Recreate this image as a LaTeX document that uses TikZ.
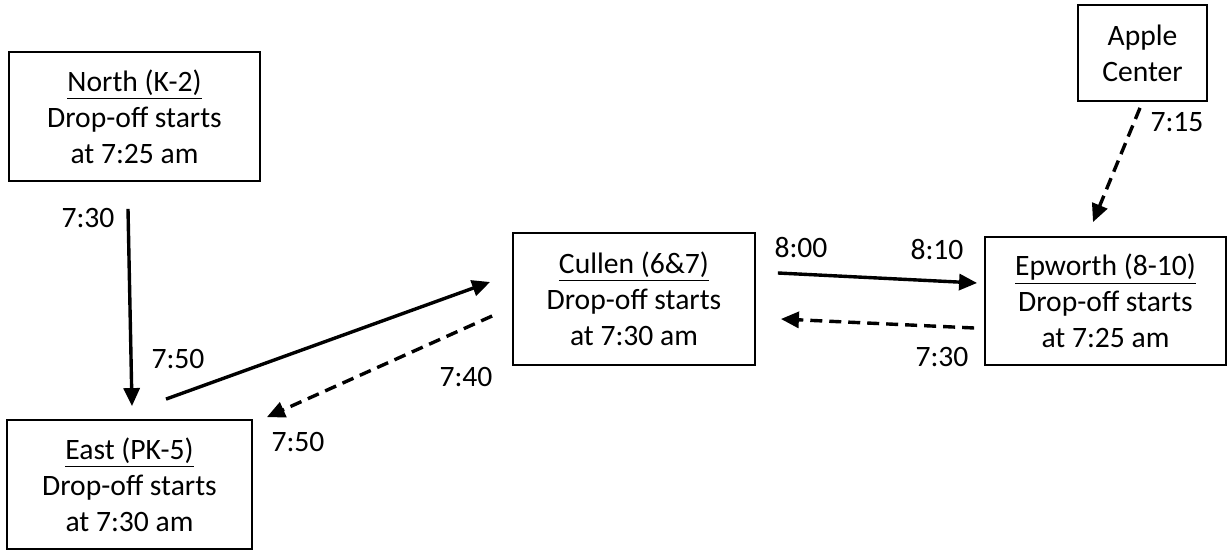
\documentclass[tikz,border=0pt]{standalone}
\usepackage{fontspec}
\setmainfont{Carlito}
\usetikzlibrary{positioning,arrows.meta}

\begin{document}
\begin{tikzpicture}[x=0.5pt,y=-0.5pt,>={Triangle[length=9pt,width=8pt]},font=\fontsize{14.8}{18}\selectfont]
  \tikzstyle{school}=[draw,line width=0.9pt,align=center,inner sep=0pt]
  \tikzstyle{lbl}=[inner sep=0pt]
  \tikzstyle{route}=[->,line width=1.7pt]
  \tikzstyle{shuttle}=[->,line width=1.7pt,dash pattern=on 6pt off 3.5pt]

  \useasboundingbox (0,0) rectangle (1228,550);

  % schools
  \node[school,minimum width=125.5pt,minimum height=64.5pt] (north) at (134.5,116.5) {\underline{North (K-2)}\\Drop-off starts\\at 7:25 am};
  \node[school,minimum width=122.5pt,minimum height=64.5pt] (east) at (129.5,484.5) {\underline{East (PK-5)}\\Drop-off starts\\at 7:30 am};
  \node[school,minimum width=121pt,minimum height=66pt] (cullen) at (634,299) {\underline{Cullen (6\&7)}\\Drop-off starts\\at 7:30 am};
  \node[school,minimum width=120.5pt,minimum height=64pt] (epworth) at (1105.5,301) {\underline{Epworth (8-10)}\\Drop-off starts\\at 7:25 am};
  \node[school,minimum width=64.5pt,minimum height=48pt] (apple) at (1142.5,53) {Apple\\Center};

  % times
  \node[lbl] (t730a) at (88,218) {7:30};
  \node[lbl] (t750a) at (178,359) {7:50};
  \node[lbl] (t740) at (466,377) {7:40};
  \node[lbl] (t750b) at (298,442) {7:50};
  \node[lbl] (t800) at (801,248) {8:00};
  \node[lbl] (t810) at (937,250) {8:10};
  \node[lbl] (t730b) at (942,357) {7:30};
  \node[lbl] (t715) at (1177,122) {7:15};

  % routes
  \draw[route] ([shift={(-6.5,27)}]north.south) -- ([shift={(2.5,-13)}]east.north);
  \draw[route] ([shift={(36.5,-20)}]east.north) -- ([shift={(-22,-17)}]cullen.west);
  \draw[shuttle] ([shift={(-20,17)}]cullen.west) -- ([shift={(14,-2)}]east.north east);
  \draw[route] ([shift={(22,-26)}]cullen.east) -- ([shift={(-7,-18)}]epworth.west);
  \draw[shuttle] ([shift={(-10,27)}]epworth.west) -- ([shift={(25,20)}]cullen.east);
  \draw[shuttle] ([shift={(-2.5,6)}]apple.south) -- ([shift={(-12.5,-14)}]epworth.north);
\end{tikzpicture}
\end{document}
